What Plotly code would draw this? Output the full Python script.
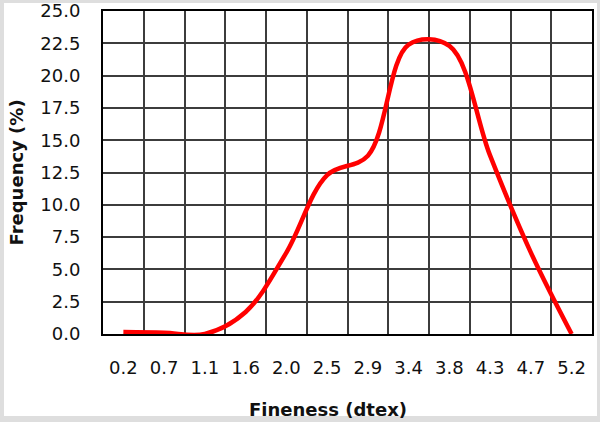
import plotly.graph_objects as go

categories = ["0.2", "0.7", "1.1", "1.6", "2.0", "2.5", "2.9", "3.4", "3.8", "4.3", "4.7", "5.2"]
frequency = [0.15, 0.1, 0.0, 1.7, 6.3, 12.3, 13.8, 22.4, 22.3, 13.8, 6.3, 0.0]
y_ticks = [0, 2.5, 5, 7.5, 10, 12.5, 15, 17.5, 20, 22.5, 25]

W, H = 600, 422
L, R, T, B = 103, 8, 11, 88
pw, ph = W - L - R, H - T - B

def px(x):
    return (x - L) / pw

def py(y):
    return (H - B - y) / ph

FONT = "DejaVu Sans"

fig = go.Figure()
fig.add_trace(go.Scatter(
    x=categories, y=frequency, mode="lines",
    line=dict(color="#ff0000", width=4.5, shape="spline", smoothing=1.0),
    hoverinfo="skip", showlegend=False,
))

fig.update_layout(
    width=W, height=H,
    margin=dict(l=L, r=R, t=T, b=B, autoexpand=False),
    paper_bgcolor="#dedede",
    plot_bgcolor="white",
    font=dict(family=FONT, size=18, color="#111111"),
    shapes=[dict(type="rect", xref="paper", yref="paper",
                 x0=px(4), x1=px(597), y0=py(416), y1=py(3),
                 fillcolor="white", line=dict(width=0), layer="below")],
    annotations=[
        dict(text="<b>Fineness (dtex)</b>", xref="paper", yref="paper",
             x=px(328), y=py(409), xanchor="center", yanchor="middle",
             showarrow=False, font=dict(family=FONT, size=18, color="#111111")),
        dict(text="<b>Frequency (%)</b>", xref="paper", yref="paper",
             x=px(16), y=0.5, xanchor="center", yanchor="middle", textangle=-90,
             showarrow=False, font=dict(family=FONT, size=18, color="#111111")),
    ],
)

fig.update_xaxes(
    type="category", range=[-0.5, len(categories) - 0.5],
    tickson="boundaries", ticks="", showgrid=True,
    gridcolor="#3c3c3c", gridwidth=2,
    showline=True, linecolor="black", linewidth=2, mirror=True,
    ticklabelstandoff=16, fixedrange=True, automargin=False,
)
fig.update_yaxes(
    range=[0, 25], tickvals=y_ticks, tickformat=".1f",
    ticks="", showgrid=True, gridcolor="#3c3c3c", gridwidth=2,
    showline=True, linecolor="black", linewidth=2, mirror=True,
    zeroline=False, ticklabelstandoff=17, fixedrange=True, automargin=False,
)

fig.write_html(
    "out.html",
    config={"displayModeBar": False, "staticPlot": True},
    post_script="document.body.style.margin='0';document.body.style.padding='0';",
)
